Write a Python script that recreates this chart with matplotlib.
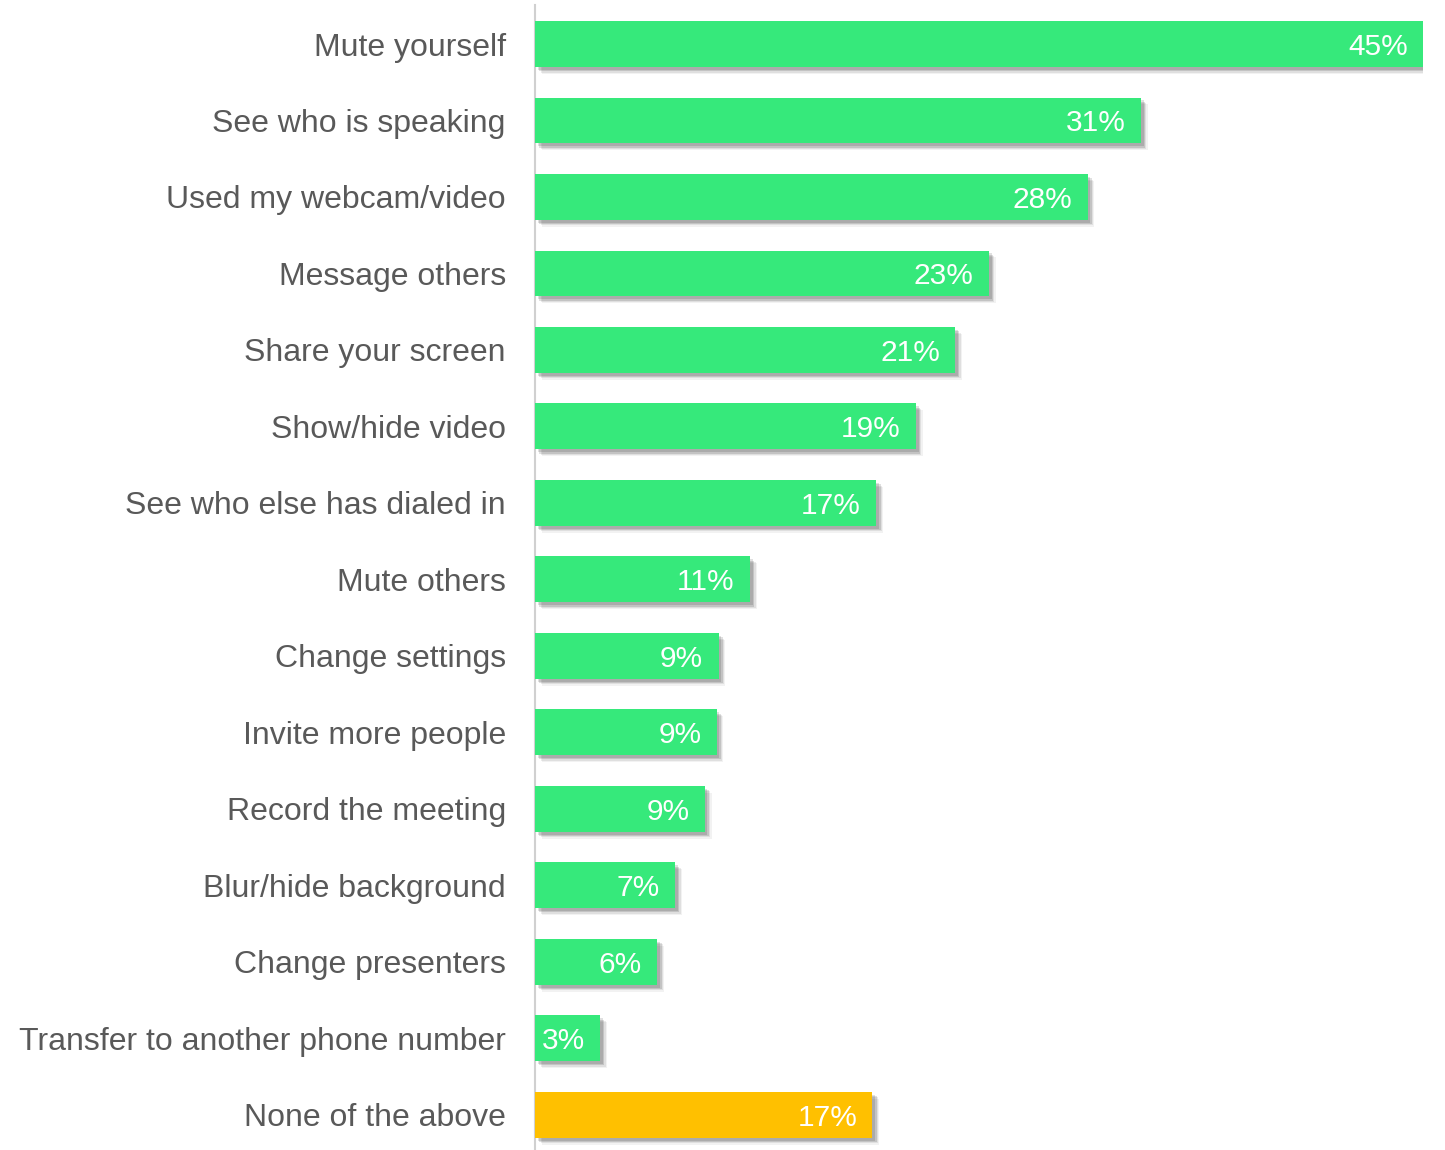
import matplotlib
matplotlib.use("Agg")
import matplotlib.pyplot as plt
import matplotlib.patheffects as pe

categories = [
    "Mute yourself",
    "See who is speaking",
    "Used my webcam/video",
    "Message others",
    "Share your screen",
    "Show/hide video",
    "See who else has dialed in",
    "Mute others",
    "Change settings",
    "Invite more people",
    "Record the meeting",
    "Blur/hide background",
    "Change presenters",
    "Transfer to another phone number",
    "None of the above",
]
values = [45.0, 30.7, 28.0, 23.0, 21.3, 19.3, 17.3, 10.9, 9.3, 9.2, 8.6, 7.1, 6.2, 3.3, 17.1]
colors = ["#36E97B"] * 14 + ["#FFC000"]

plt.rcParams["font.family"] = ["Liberation Sans", "DejaVu Sans"]

W, H = 1445, 1150
fig = plt.figure(figsize=(W / 100, H / 100), dpi=100)
ax_left, ax_right = 535, 1423
ax = fig.add_axes([ax_left / W, 0.0, (ax_right - ax_left) / W, 1 - 5 / H])

y = list(range(len(categories)))
bars = ax.barh(y, values, height=0.6, color=colors, zorder=3)

# soft drop shadow under each bar
shadow = [
    pe.SimplePatchShadow(offset=(5, -5), shadow_rgbFace="#000000", alpha=0.05),
    pe.SimplePatchShadow(offset=(4, -4), shadow_rgbFace="#000000", alpha=0.08),
    pe.SimplePatchShadow(offset=(3, -3), shadow_rgbFace="#000000", alpha=0.12),
    pe.SimplePatchShadow(offset=(2, -2), shadow_rgbFace="#000000", alpha=0.12),
    pe.Normal(),
]
for b in bars:
    b.set_path_effects(shadow)

ax.set_xlim(0, 45)
ax.set_ylim(len(categories) - 0.54, -0.51)

for yi, v in zip(y, values):
    ax.annotate(f"{v:.0f}%", xy=(v, yi), xytext=(-11, 0), textcoords="offset points",
                ha="right", va="center_baseline", color="white", fontsize=21.5, zorder=4)

ax.set_yticks(y)
ax.set_yticklabels(categories, fontsize=23, color="#595959", va="center_baseline")
ax.tick_params(axis="y", length=0, pad=21)
ax.set_xticks([])

for s in ["top", "right", "bottom"]:
    ax.spines[s].set_visible(False)
ax.spines["left"].set_color("#D0D0D0")
ax.spines["left"].set_linewidth(1.5)

fig.savefig("out.png", dpi=100)
